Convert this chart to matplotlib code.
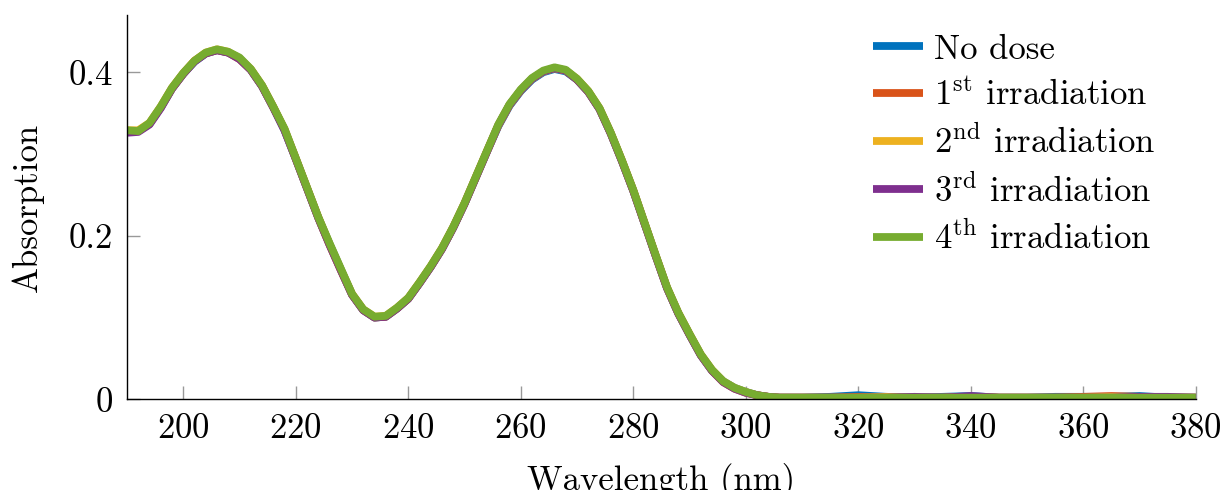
import matplotlib
matplotlib.use("Agg")
import matplotlib.pyplot as plt

# wavelength grid (nm)
wavelength = [190, 192, 194, 196, 198, 200, 202, 204, 206, 208,
              210, 212, 214, 216, 218, 220, 222, 224, 226, 228,
              230, 232, 234, 236, 238, 240, 242, 244, 246, 248,
              250, 252, 254, 256, 258, 260, 262, 264, 266, 268,
              270, 272, 274, 276, 278, 280, 282, 284, 286, 288,
              290, 292, 294, 296, 298, 300, 302, 304, 306, 308,
              310, 315, 320, 325, 330, 335, 340, 345, 350, 355,
              360, 365, 370, 375, 380]

no_dose = [0.328, 0.328, 0.337, 0.357, 0.380, 0.398, 0.413, 0.423, 0.427, 0.424,
           0.417, 0.403, 0.383, 0.357, 0.329, 0.294, 0.258, 0.222, 0.190, 0.159,
           0.128, 0.109, 0.100, 0.101, 0.111, 0.123, 0.142, 0.162, 0.184, 0.210,
           0.239, 0.271, 0.303, 0.334, 0.359, 0.377, 0.391, 0.400, 0.404, 0.401,
           0.391, 0.376, 0.355, 0.325, 0.291, 0.255, 0.215, 0.175, 0.136, 0.105,
           0.079, 0.054, 0.035, 0.022, 0.014, 0.009, 0.005, 0.003, 0.002, 0.002,
           0.002, 0.003, 0.005, 0.003, 0.002, 0.003, 0.004, 0.002, 0.002, 0.003,
           0.003, 0.003, 0.004, 0.002, 0.002]

irr_1 = [0.328, 0.328, 0.337, 0.357, 0.380, 0.398, 0.414, 0.423, 0.427, 0.424,
         0.416, 0.403, 0.383, 0.357, 0.330, 0.294, 0.258, 0.222, 0.189, 0.158,
         0.128, 0.109, 0.100, 0.101, 0.111, 0.123, 0.142, 0.162, 0.184, 0.210,
         0.239, 0.271, 0.303, 0.335, 0.360, 0.378, 0.392, 0.401, 0.405, 0.402,
         0.391, 0.376, 0.355, 0.325, 0.291, 0.255, 0.215, 0.175, 0.136, 0.105,
         0.079, 0.054, 0.035, 0.021, 0.013, 0.008, 0.005, 0.003, 0.002, 0.002,
         0.002, 0.002, 0.003, 0.002, 0.002, 0.002, 0.003, 0.002, 0.002, 0.002,
         0.003, 0.004, 0.003, 0.002, 0.002]

irr_2 = [0.329, 0.329, 0.338, 0.358, 0.381, 0.399, 0.414, 0.424, 0.428, 0.425,
         0.417, 0.404, 0.384, 0.358, 0.330, 0.295, 0.259, 0.223, 0.190, 0.159,
         0.129, 0.110, 0.101, 0.102, 0.112, 0.124, 0.143, 0.163, 0.185, 0.211,
         0.240, 0.272, 0.304, 0.335, 0.360, 0.378, 0.392, 0.401, 0.405, 0.402,
         0.392, 0.377, 0.356, 0.326, 0.292, 0.256, 0.216, 0.176, 0.137, 0.106,
         0.080, 0.055, 0.036, 0.022, 0.014, 0.009, 0.005, 0.003, 0.002, 0.002,
         0.002, 0.002, 0.002, 0.003, 0.002, 0.002, 0.003, 0.002, 0.002, 0.002,
         0.002, 0.003, 0.002, 0.002, 0.002]

irr_3 = [0.326, 0.327, 0.336, 0.356, 0.380, 0.398, 0.413, 0.423, 0.427, 0.424,
         0.416, 0.403, 0.383, 0.357, 0.329, 0.294, 0.258, 0.222, 0.189, 0.158,
         0.128, 0.109, 0.100, 0.101, 0.111, 0.123, 0.142, 0.162, 0.184, 0.210,
         0.239, 0.271, 0.303, 0.335, 0.360, 0.378, 0.392, 0.401, 0.405, 0.402,
         0.391, 0.376, 0.355, 0.325, 0.291, 0.255, 0.215, 0.175, 0.136, 0.105,
         0.079, 0.054, 0.035, 0.021, 0.013, 0.008, 0.005, 0.003, 0.002, 0.002,
         0.002, 0.002, 0.002, 0.002, 0.003, 0.002, 0.004, 0.002, 0.002, 0.002,
         0.002, 0.002, 0.003, 0.003, 0.002]

irr_4 = [0.329, 0.328, 0.338, 0.358, 0.381, 0.399, 0.414, 0.424, 0.428, 0.425,
         0.418, 0.404, 0.384, 0.358, 0.331, 0.295, 0.259, 0.223, 0.191, 0.160,
         0.129, 0.110, 0.101, 0.102, 0.112, 0.124, 0.143, 0.163, 0.185, 0.211,
         0.240, 0.272, 0.304, 0.336, 0.361, 0.379, 0.393, 0.402, 0.406, 0.403,
         0.392, 0.377, 0.356, 0.326, 0.292, 0.256, 0.216, 0.176, 0.137, 0.106,
         0.080, 0.055, 0.036, 0.022, 0.014, 0.009, 0.005, 0.003, 0.002, 0.002,
         0.002, 0.002, 0.002, 0.002, 0.002, 0.002, 0.002, 0.002, 0.002, 0.002,
         0.002, 0.002, 0.002, 0.002, 0.002]

series = [no_dose, irr_1, irr_2, irr_3, irr_4]
labels = ['No dose',
          r'1$^{\mathrm{st}}$ irradiation',
          r'2$^{\mathrm{nd}}$ irradiation',
          r'3$^{\mathrm{rd}}$ irradiation',
          r'4$^{\mathrm{th}}$ irradiation']
colors = ['#0072BD', '#D95319', '#EDB120', '#7E2F8E', '#77AC30']

x_ticks = [200, 220, 240, 260, 280, 300, 320, 340, 360, 380]
y_ticks = [0, 0.2, 0.4]
y_tick_labels = ['0', '0.2', '0.4']

plt.rcParams['font.family'] = 'cmr10'
plt.rcParams['mathtext.fontset'] = 'cm'
plt.rcParams['axes.formatter.use_mathtext'] = True
plt.rcParams['axes.unicode_minus'] = False

fig = plt.figure(figsize=(12.24, 4.9), dpi=100)
ax = fig.add_axes([127 / 1224, 1 - 399.3 / 490, (1195.8 - 127) / 1224, (399.3 - 15) / 490])

for ys, lab, c in zip(series, labels, colors):
    ax.plot(wavelength, ys, color=c, lw=5.6, label=lab,
            solid_capstyle='butt', solid_joinstyle='round')

ax.set_xlim(190, 380)
ax.set_ylim(0, 0.47)
ax.set_xticks(x_ticks)
ax.set_yticks(y_ticks, y_tick_labels)

for side in ['top', 'right']:
    ax.spines[side].set_visible(False)
for side in ['left', 'bottom']:
    ax.spines[side].set_linewidth(1.0)

ax.tick_params(direction='in', length=9.5, width=1.0, color='#999999',
               labelsize=25, pad=10)

ax.set_xlabel('Wavelength (nm)', fontsize=25, labelpad=13)
ax.set_ylabel('Absorption', fontsize=25, labelpad=18)

ax.legend(loc='upper left', bbox_to_anchor=(873 / 1224, 1 - 34 / 490),
          bbox_transform=fig.transFigure, frameon=False, fontsize=25,
          handlelength=1.45, handletextpad=0.32, labelspacing=0.37,
          borderpad=0, borderaxespad=0)

fig.savefig('out.png', dpi=100)
